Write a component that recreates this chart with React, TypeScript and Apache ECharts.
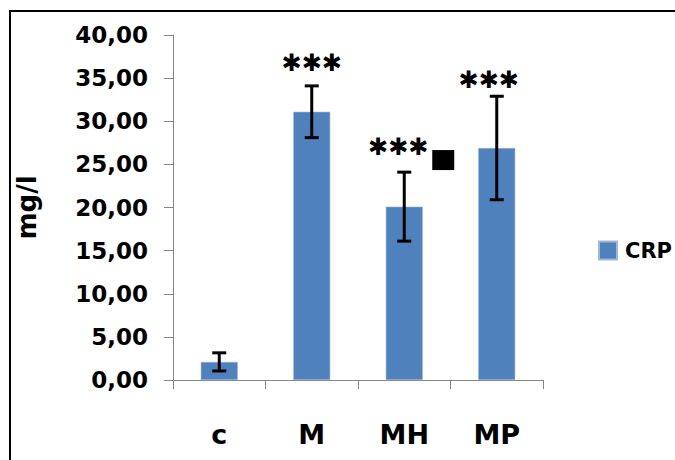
import React, { useEffect, useRef } from "react";
import * as echarts from "echarts";

const categories = ["c", "M", "MH", "MP"];
const seriesName = "CRP";
const crpMeans = [2.1, 31.1, 20.1, 26.9];
const crpErrors = [1.05, 3.0, 4.0, 6.0];
const sigMarks = ["", "***", "***", "***"];
const sigLevels = [null, 36.8, 27.0, 34.8];
const squareLevels = [null, null, 25.5, null];
const yMin = 0;
const yMax = 40;
const yStep = 5;

const FONT = "DejaVu Sans";
const SIG_DX = [0, 0, -6, -8];

export default function App() {
  const ref = useRef<HTMLDivElement>(null);
  useEffect(() => {
    if (!ref.current) return;
    const chart = echarts.init(ref.current, null, { renderer: "svg" });
    const errData = crpMeans.map((m, i) => [i, m - crpErrors[i], m + crpErrors[i]]);
    const markData = categories.map((_, i) => [i, sigLevels[i], squareLevels[i]]);
    chart.setOption({
      animation: false,
      backgroundColor: "#ffffff",
      grid: { left: 173, right: 132, top: 35, bottom: 80, containLabel: false },
      legend: {
        left: 593,
        top: 235,
        itemWidth: 18,
        itemHeight: 18,
        icon: "rect",
        data: [seriesName],
        textStyle: { fontFamily: FONT, fontWeight: "bold", fontSize: 21, color: "#000", padding: [0, 0, 0, 3] },
      },
      xAxis: {
        type: "category",
        data: categories,
        boundaryGap: true,
        axisLine: { lineStyle: { color: "#868686", width: 1 } },
        axisTick: { show: true, alignWithLabel: false, length: 9, lineStyle: { color: "#868686" } },
        axisLabel: { margin: 41, fontFamily: FONT, fontWeight: "bold", fontSize: 27, color: "#000" },
        splitLine: { show: false },
      },
      yAxis: {
        type: "value",
        min: yMin,
        max: yMax,
        interval: yStep,
        name: "mg/l",
        nameLocation: "middle",
        nameRotate: 90,
        nameGap: 133,
        nameTextStyle: { fontFamily: FONT, fontWeight: "bold", fontSize: 26, color: "#000" },
        axisLine: { show: true, lineStyle: { color: "#868686", width: 1 } },
        axisTick: { show: true, length: 9, lineStyle: { color: "#868686" } },
        axisLabel: {
          margin: 25,
          fontFamily: FONT,
          fontWeight: "bold",
          fontSize: 23,
          color: "#000",
          formatter: (v: number) => v.toFixed(2).replace(".", ","),
        },
        splitLine: { show: false },
      },
      series: [
        {
          name: seriesName,
          type: "bar",
          data: crpMeans,
          barWidth: "40%",
          itemStyle: { color: "#4F81BD", borderColor: "#9DB8DB", borderWidth: 0.6 },
        },
        {
          type: "custom",
          name: "err",
          data: errData,
          z: 5,
          renderItem: (params: any, api: any) => {
            const i = api.value(0);
            const lo = api.coord([i, api.value(1)]);
            const hi = api.coord([i, api.value(2)]);
            const x = lo[0];
            const hw = 7;
            const st = { stroke: "#000", lineWidth: 3 };
            return {
              type: "group",
              children: [
                { type: "line", shape: { x1: x, y1: lo[1], x2: x, y2: hi[1] }, style: st },
                { type: "line", shape: { x1: x - hw, y1: lo[1], x2: x + hw, y2: lo[1] }, style: st },
                { type: "line", shape: { x1: x - hw, y1: hi[1], x2: x + hw, y2: hi[1] }, style: st },
              ],
            };
          },
        },
        {
          type: "custom",
          name: "sig",
          data: markData,
          z: 6,
          renderItem: (params: any, api: any) => {
            const i = api.value(0);
            const children: any[] = [];
            const mark = sigMarks[i];
            const lvl = sigLevels[i];
            if (mark && lvl != null) {
              const p = api.coord([i, lvl]);
              children.push({
                type: "text",
                x: p[0] + SIG_DX[i],
                y: p[1],
                style: {
                  text: mark.replace(/\*/g, "\u2731"),
                  fontFamily: FONT,
                  fontWeight: "bold",
                  fontSize: 24,
                  fill: "#000",
                  align: "center",
                  verticalAlign: "middle",
                },
              });
            }
            const sq = squareLevels[i];
            if (sq != null) {
              const q = api.coord([i, sq]);
              children.push({
                type: "rect",
                shape: { x: q[0] + 28, y: q[1] - 10, width: 22, height: 20 },
                style: { fill: "#000" },
              });
            }
            return { type: "group", children };
          },
        },
      ],
      graphic: [
        {
          type: "rect",
          shape: { x: 10, y: 11, width: 700, height: 500 },
          style: { fill: "none", stroke: "#000", lineWidth: 2 },
          silent: true,
        },
      ],
    });
    return () => chart.dispose();
  }, []);
  return (
    <div
      ref={ref}
      style={{ position: "fixed", left: 0, top: 0, width: 675, height: 460 }}
    />
  );
}
